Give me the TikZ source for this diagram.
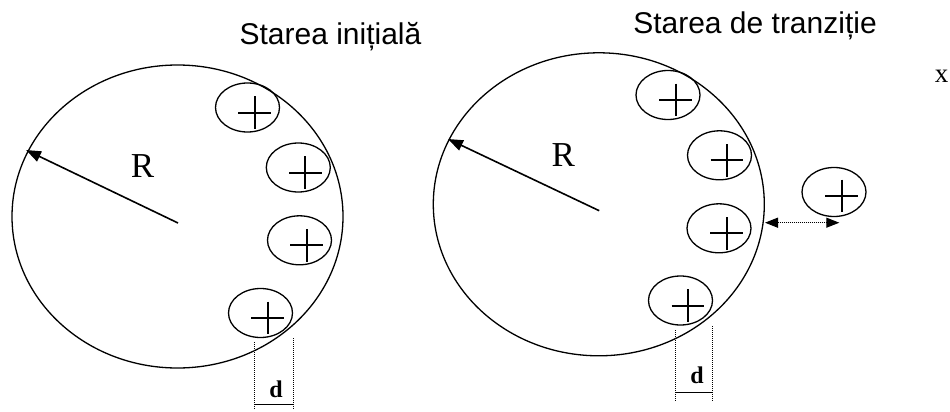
\documentclass[tikz,border=0pt]{standalone}
\usepackage{fontspec}
\setmainfont{Liberation Serif}
\newfontfamily\arialfont{Liberation Sans}
\usetikzlibrary{shapes.geometric,arrows.meta}
\begin{document}
\begin{tikzpicture}[x=1pt,y=-1pt,
  big/.style={draw,ellipse,line width=1.3pt,inner sep=0pt,outer sep=0pt,minimum width=331pt,minimum height=303pt},
  ion/.style={draw,ellipse,line width=1.3pt,inner sep=0pt,outer sep=0pt,minimum width=64pt,minimum height=49pt},
  plusmark/.style={line width=2pt},
  radarrow/.style={line width=1.6pt,-{Triangle[length=15pt,width=11pt]}},
  dimline/.style={line width=1pt,dash pattern=on 1pt off 1pt},
  gaparrow/.style={line width=1.2pt,dash pattern=on 1pt off 1pt,{Triangle[length=13pt,width=10pt]}-{Triangle[length=13pt,width=10pt]}},
  barline/.style={line width=1pt},
  title/.style={font=\arialfont\fontsize{30}{36}\selectfont,anchor=base,inner sep=0pt},
  rlabel/.style={font=\fontsize{35}{40}\selectfont,anchor=base,inner sep=0pt},
  dlabel/.style={font=\bfseries\fontsize{24}{28}\selectfont,anchor=base,inner sep=0pt},
  xlabel/.style={font=\fontsize{27}{31}\selectfont,anchor=base,inner sep=0pt}
]
\path[use as bounding box] (0,0) rectangle (950,412);

% ---- left: initial state ----
\node[title] (t1) at (330.5,45) {Starea inițială};
\node[big] (bigL) at (177.5,216.5) {};
\coordinate (cL) at (178,223);
\coordinate (tipL) at (26,150);
\draw[radarrow] (cL) -- (tipL);
\node[rlabel] (rL) at (142.5,177.3) {R};

\node[ion] (a1) at (247.5,107.5) {};
\node[ion] (a2) at (298.3,167.5) {};
\node[ion] (a3) at (299.5,240.3) {};
\node[ion] (a4) at (260.5,313) {};
\foreach \n in {a1,a2,a3,a4}{
  \draw[plusmark] ([shift={(7,5)}]\n.center) +(-16.3,0) -- +(16.3,0) +(0,-16.3) -- +(0,16.3);
}

\coordinate (dL1a) at (254,342);
\coordinate (dL1b) at (254,410);
\coordinate (dL2a) at (293,338);
\coordinate (dL2b) at (293,410);
\draw[dimline] (dL1a) -- (dL1b);
\draw[dimline] (dL2a) -- (dL2b);
\draw[barline] (254,404) -- (293,404);
\node[dlabel] (dL) at (276,397) {d};

% ---- right: transition state ----
\node[title] (t2) at (755,33.3) {Starea de tranziție};
\node[big] (bigR) at (598.8,204.3) {};
\coordinate (cR) at (599.2,210.7);
\coordinate (tipR) at (448,139);
\draw[radarrow] (cR) -- (tipR);
\node[rlabel] (rR) at (563.3,166.7) {R};

\node[ion] (b1) at (668,95) {};
\node[ion] (b2) at (719.5,155.3) {};
\node[ion] (b3) at (719,228.3) {};
\node[ion] (b4) at (680.5,300.5) {};
\node[ion] (b5) at (834,192) {};
\foreach \n in {b1,b2,b3,b4}{
  \draw[plusmark] ([shift={(7.5,5)}]\n.center) +(-16.3,0) -- +(16.3,0) +(0,-16.3) -- +(0,16.3);
}
\draw[plusmark] ([shift={(7.7,4)}]b5.center) +(-16.3,0) -- +(16.3,0) +(0,-16.3) -- +(0,16.3);

\coordinate (gapA) at (765,222.7);
\coordinate (gapB) at (839.3,222.7);
\draw[gaparrow] (gapA) -- (gapB);

\coordinate (dR1a) at (675,330);
\coordinate (dR1b) at (675,402);
\coordinate (dR2a) at (712.7,326);
\coordinate (dR2b) at (712.7,402);
\draw[dimline] (dR1a) -- (dR1b);
\draw[dimline] (dR2a) -- (dR2b);
\draw[barline] (675,392.7) -- (712.7,392.7);
\node[dlabel] (dR) at (697,383) {d};

\node[xlabel] (xl) at (941.5,82.7) {x};
\end{tikzpicture}
\end{document}
